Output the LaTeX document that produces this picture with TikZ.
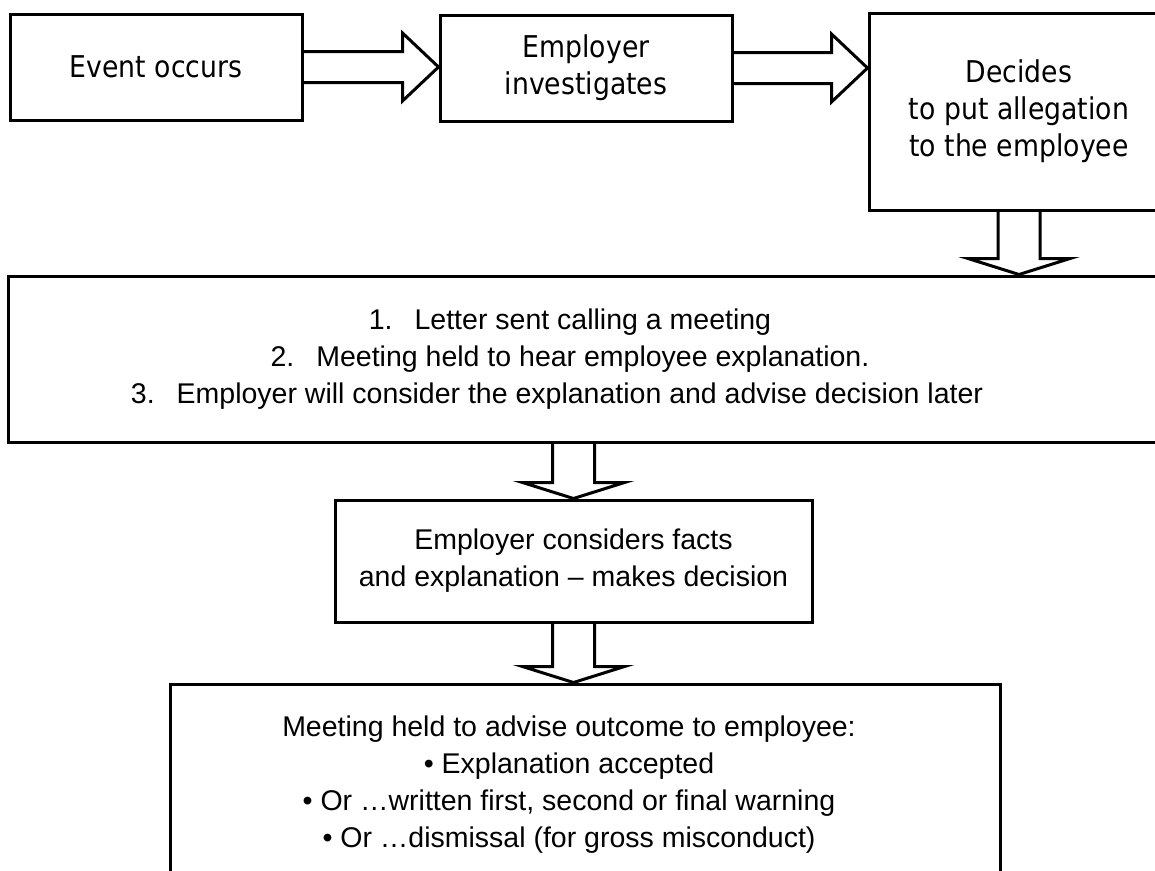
\documentclass[tikz,border=0pt]{standalone}
\usepackage{fontspec}
\setmainfont{Liberation Sans}
\newfontfamily\tahomafont[FakeStretch=0.89]{DejaVu Sans}
\usetikzlibrary{calc}

\begin{document}
\begin{tikzpicture}[x=1pt,y=-1pt,
  box/.style={draw,line width=3pt,rectangle,inner sep=0pt,align=center},
  topfont/.style={font=\tahomafont\fontsize{30}{37}\selectfont},
  lowfont/.style={font=\fontsize{28.5}{37}\selectfont,align=center},
  rfat/.style={line width=3pt,to path={($(\tikztostart)+(0,-15.5)$) -- ($(\tikztotarget)+(-36,-15.5)$) -- ++(0,-18.5) -- (\tikztotarget) -- ++(-36,34) -- ++(0,-18.5) -- ($(\tikztostart)+(0,15.5)$)}},
  dfat/.style={line width=3pt,to path={($(\tikztostart)+(-21,0)$) -- ($(\tikztotarget)+(-21,-16)$) -- ++(-30,0) -- (\tikztotarget) -- ++(51,-16) -- ++(-30,0) -- ($(\tikztostart)+(21,0)$)}}]
\useasboundingbox (0,0) rectangle (1155,870);
\fill[white] (0,0) rectangle (1155,870);
\clip (0,0) rectangle (1155,870);

% Top row
\node[box,topfont,minimum width=292pt,minimum height=106pt] (ev) at (156,67) {Event occurs};
\node[box,topfont,minimum width=292pt,minimum height=106pt] (inv) at (586,68) {Employer\\investigates};
\node[box,topfont,minimum width=300pt,minimum height=197pt] (dec) at (1019,111.5) {Decides\\to put allegation\\to the employee};

% Meeting steps
\node[box,minimum width=1170pt,minimum height=166pt,
  label={[lowfont,xshift=-23pt]center:{1.\hspace{22pt}Letter sent calling a meeting\\2.\hspace{22pt}Meeting held to hear employee explanation.\\3.\hspace{22pt}Employer will consider the explanation and advise decision later\hspace*{26pt}}}] (letter) at (593,359) {};

% Decision
\node[box,lowfont,minimum width=477pt,minimum height=122pt] (cons) at (573.5,561) {Employer considers facts\\and explanation -- makes decision};

% Outcome
\node[box,minimum width=830pt,minimum height=202pt,
  label={[lowfont,xshift=-16pt]center:{Meeting held to advise outcome to employee:\\• Explanation accepted\\• Or …written first, second or final warning\\• Or …dismissal (for gross misconduct)}}] (outc) at (585,785) {};

% Block arrows
\draw[rfat] (ev.east) to (ev.east -| inv.west);
\draw[rfat] (inv.east) to (inv.east -| dec.west);
\draw[dfat] (dec.south) to (dec.south |- letter.north);
\draw[dfat] (cons.north |- letter.south) to (cons.north);
\draw[dfat] (cons.south) to (cons.south |- outc.north);
\end{tikzpicture}
\end{document}
